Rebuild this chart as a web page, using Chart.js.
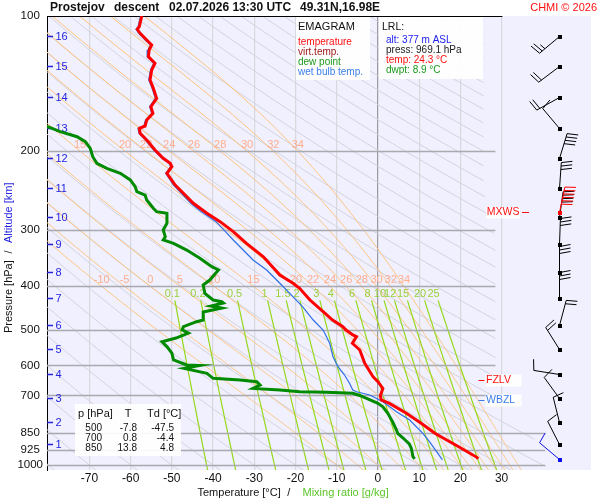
<!DOCTYPE html>
<html>
<head>
<meta charset="utf-8">
<script src="https://cdn.jsdelivr.net/npm/chart.js@4/dist/chart.umd.min.js"></script>
<style>
  html, body { margin: 0; padding: 0; background: #fff; }
  #c { display: block; }
</style>
</head>
<body>
<canvas id="c" width="600" height="500"></canvas>
<script>
// sounding values: [pressure hPa, value °C]
const temperature = [
  [100, -57.3], [105.6, -57.9], [107.1, -58.4], [109.3, -57.7], [113.1, -56.1], [116, -54.9],
  [119, -55.5], [123.2, -55.7], [127.4, -54.1], [131.9, -54.9], [138.8, -55.3], [144.9, -54.5],
  [152.6, -53.7], [159.2, -55.1], [164.7, -54.6], [170.4, -56.1], [175.8, -56.5], [177.9, -57.9],
  [182.5, -57.7], [188.9, -56.1], [198.8, -54.1], [207.5, -52.1], [212.9, -50.4], [216.6, -50.0],
  [220.3, -50.6], [224.1, -51.2], [237.9, -49.2], [248.2, -47.2], [261.3, -44.8], [275, -41.5],
  [287.1, -38.3], [302.2, -35.1], [320.9, -31.9], [343.7, -27.8], [377.4, -23.8], [393.8, -20.6],
  [404.1, -19.0], [429.1, -16.5], [455.6, -13.3], [475.5, -11.0], [492, -8.5], [500, -7.8],
  [513.3, -6.1], [517.8, -5.2], [535.8, -6.2], [554.5, -4.4], [593.5, -3.2], [635.8, -1.2],
  [652.4, 0.0], [675.1, 1.2], [700, 0.6], [716.6, 0.8], [728.9, 2.8], [767.1, 6.9],
  [807.5, 10.5], [850, 13.8], [910.4, 19.6], [961.3, 24.0], [969.1, 24.3]
];
const dewPoint = [
  [175.8, -80.5], [181, -77.1], [185.7, -73.0], [190.5, -71.0], [197.1, -69.8], [205.8, -69.2],
  [212.9, -68.2], [218.4, -65.8], [224.1, -62.5], [231.8, -60.1], [240, -58.9], [246.2, -58.5],
  [250.5, -56.5], [257, -56.1], [268.1, -54.5], [272.8, -53.7], [275, -51.2], [289.5, -51.2],
  [299.6, -52.1], [310.1, -51.6], [315.4, -52.1], [320.9, -49.6], [332.1, -46.4], [346.5, -43.2],
  [361.7, -40.3], [367.9, -38.7], [387.3, -40.8], [397.3, -42.4], [414.6, -42.0], [429.1, -40.0],
  [432.8, -37.9], [435.7, -37.5], [442.4, -40.5], [447, -37.9], [456.3, -42.4], [475.5, -42.4],
  [479.6, -44.0], [492, -47.2], [500, -47.5], [508.3, -46.0], [521.5, -49.0], [531.5, -52.4],
  [544.9, -51.2], [563.6, -50.0], [583.4, -49.6], [598.8, -46.4], [600.5, -43.2], [609.3, -47.0],
  [625, -41.5], [641.2, -40.0], [646.9, -33.5], [652.5, -29.4], [663.8, -28.6], [675.1, -30.3],
  [680.9, -23.8], [686.8, -19.0], [689, -12.5], [692.4, -6.1], [700, -4.4], [728.9, 0.0],
  [741.7, 1.2], [767.1, 2.4], [802.4, 3.6], [835.8, 4.5], [850, 4.8], [870.9, 6.1],
  [897.8, 7.6], [918, 8.1], [958.3, 8.5], [969.1, 8.9]
];
const wetBulb = [
  [100, -57.6], [105.6, -58.2], [107.1, -58.7], [109.3, -58.0], [113.1, -56.4], [116, -55.2],
  [119, -55.8], [123.2, -56.0], [127.4, -54.4], [131.9, -55.2], [138.8, -55.6], [144.9, -54.8],
  [152.6, -54.0], [159.2, -55.4], [164.7, -54.9], [170.4, -56.4], [175.8, -56.8], [177.9, -58.2],
  [182.5, -58.0], [188.9, -56.4], [198.8, -54.4], [207.5, -52.4], [212.9, -50.7], [216.6, -50.3],
  [220.3, -50.9], [224.1, -51.5], [237.9, -49.6], [248.2, -47.7], [261.3, -45.4], [270.4, -43.4],
  [287.1, -39.3], [302.2, -37.0], [315.4, -35.1], [349.4, -30.3], [367.9, -27.0], [393.8, -23.8],
  [414.6, -21.4], [444.9, -18.2], [475.5, -15.7], [500.4, -13.3], [535.8, -11.7], [573.8, -10.9],
  [603.9, -9.7], [630.4, -8.1], [657.7, -6.9], [680.9, -6.1], [686.8, -5.2], [698.5, -2.0],
  [722.9, 1.2], [760.9, 4.5], [794.2, 7.7], [850.2, 10.9], [887.4, 12.5], [966.2, 15.4], [969.1, 15.5]
];

// axes
const pressureLevels = [100, 200, 300, 400, 500, 600, 700, 850, 925, 1000];
const longPressureLines = [850, 925, 1000];
const tempTicks = [-70, -60, -50, -40, -30, -20, -10, 0, 10, 20, 30];
const altKm = [1, 2, 3, 4, 5, 6, 7, 8, 9, 10, 11, 12, 13, 14, 15, 16];
const altP = [898, 802, 709, 627, 551, 488, 425, 372, 322, 280, 242, 207, 178, 151.5, 129, 111];

// background isopleths
const dryThetaC = [-80, -70, -60, -50, -40, -30, -20, -10, 0, 10, 20, 30, 40, 50, 60, 70, 80, 90, 100,
  110, 120, 130, 140, 150, 160, 170, 180, 190, 200, 210, 220, 230, 240, 250, 260, 270, 280, 290, 300,
  310, 320, 330];
const moistThetaW = [-10, -5, 0, 5, 10, 15, 20, 22, 24, 26, 28, 30, 32, 34];
const moistLabelLevels = [200, 400];
const mixRatios = [0.1, 0.2, 0.5, 1, 1.5, 2, 3, 4, 6, 8, 10, 12, 15, 20, 25];
const mixLabels = ['0.1', '0.2', '0.5', '1', '1.5', '2', '3', '4', '6', '8', '10', '12', '15', '20', '25'];

// summary table + LRL box
const tableRows = [['500', '-7.8', '-47.5'], ['700', '0.8', '-4.4'], ['850', '13.8', '4.8']];
const lrlLines = [['alt: 377 m ASL', '#2020f0'], ['press: 969.1 hPa', '#202020'], ['temp: 24.3 °C', '#ff1010'], ['dwpt: 8.9 °C', '#1a9a1a']];
const legendLines = [['temperature', '#ff1010'], ['virt.temp.', '#a01818'], ['dew point', '#1a9a1a'], ['wet bulb temp.', '#3a7ee8']];

// special levels
const levelMarks = [
  { name: 'FZLV', p: 646, color: '#ff1010', side: 'left' },
  { name: 'WBZL', p: 716, color: '#3a7ee8', side: 'left' },
  { name: 'MXWS', p: 273, color: '#ff1010', side: 'right' }
];

// winds: staff direction (deg, as drawn) and speed (kt) at each km
const windP = [969.1, 898, 802, 709, 627, 551, 488, 425, 372, 322, 280, 242, 207, 178, 151.5, 129, 111];
const windDir = [310, 333, 346, 324, 279, 328, 15, 0, 0, 2, 8, 4, 17, 320, 241, 233, 230];
const windKt = [10, 10, 10, 10, 10, 20, 20, 30, 30, 30, 40, 30, 40, 10, 20, 20, 25];
const maxWind = { p: 272.8, dir: 12, kt: 60 };
const windColumnT = 44;

const FONT = "'Liberation Sans', Arial, sans-serif";
Chart.defaults.font.family = FONT;

function toXY(arr) {
  return arr.map(d => ({ x: d[1], y: d[0] }));
}

function satVap(tk) {
  const c = tk - 273.15;
  return 6.112 * Math.exp(17.67 * c / (c + 243.5));
}

// pseudoadiabatic lapse dT/dp
function moistSlope(p, tk) {
  const es = satVap(tk);
  const rs = 0.622 * es / (p - es);
  const Rd = 287.04, Cp = 1005.7, Lv = 2.501e6;
  return (Rd * tk + Lv * rs) / (p * (Cp + Lv * Lv * rs * 0.622 / (Rd * tk * tk)));
}

function moistAdiabat(thetaW) {
  const up = [], down = [], marks = {};
  [[-2, 100, up], [2, 1030, down]].forEach(([h, end, out]) => {
    let T = thetaW + 273.15, p = 1000;
    out.push([p, T - 273.15]);
    while ((h < 0 && p > end) || (h > 0 && p < end)) {
      const k1 = moistSlope(p, T);
      const k2 = moistSlope(p + h / 2, T + h / 2 * k1);
      const k3 = moistSlope(p + h / 2, T + h / 2 * k2);
      const k4 = moistSlope(p + h, T + h * k3);
      T += h / 6 * (k1 + 2 * k2 + 2 * k3 + k4);
      p += h;
      out.push([p, T - 273.15]);
      if (moistLabelLevels.includes(p)) marks[p] = T - 273.15;
    }
  });
  return { pts: down.reverse().concat(up.slice(1)), marks };
}

function mixingT(r, p) {
  const e = p * r / (622 + r);
  const L = Math.log(e / 6.112);
  return 243.5 * L / (17.67 - L);
}

function txt(ctx, s, x, y, color, size, align, weight) {
  ctx.font = (weight || '') + ' ' + size + 'px ' + FONT;
  ctx.fillStyle = color;
  ctx.textAlign = align || 'left';
  ctx.textBaseline = 'middle';
  ctx.fillText(s, x, y);
}

function drawBarb(ctx, x, y, dir, kt, color) {
  const a = dir * Math.PI / 180;
  const ux = Math.sin(a), uy = -Math.cos(a);
  const vx = Math.cos(a), vy = Math.sin(a);
  const tx = x + ux * 26, ty = y + uy * 26;
  ctx.strokeStyle = color;
  ctx.fillStyle = color;
  ctx.lineWidth = 1;
  ctx.beginPath();
  ctx.moveTo(x, y);
  ctx.lineTo(tx, ty);
  let n = Math.round(kt / 5), pos = 0;
  while (n >= 2) {
    const bx = tx - ux * pos, by = ty - uy * pos;
    ctx.moveTo(bx, by);
    ctx.lineTo(bx + vx * 11 + ux * 2, by + vy * 11 + uy * 2);
    n -= 2; pos += 3.5;
  }
  if (n === 1) {
    const bx = tx - ux * pos, by = ty - uy * pos;
    ctx.moveTo(bx, by);
    ctx.lineTo(bx + vx * 6 + ux, by + vy * 6 + uy);
  }
  ctx.stroke();
  ctx.fillRect(x - 1.5, y - 1.5, 4, 4);
}

const emagram = {
  id: 'emagram',
  beforeDraw(chart) {
    const { ctx, chartArea: a } = chart;
    ctx.save();
    ctx.fillStyle = '#f0f0fe';
    ctx.fillRect(a.left, a.top, a.right - a.left, a.bottom - a.top);
    ctx.restore();
  },
  beforeDatasetsDraw(chart) {
    const { ctx } = chart;
    const xs = chart.scales.x, ys = chart.scales.y;
    const px = t => xs.getPixelForValue(t), py = p => ys.getPixelForValue(p);
    const poly = pts => {
      ctx.beginPath();
      pts.forEach((d, i) => i ? ctx.lineTo(px(d[1]), py(d[0])) : ctx.moveTo(px(d[1]), py(d[0])));
      ctx.stroke();
    };

    ctx.save();
    // region the isopleths are drawn in
    const clip = [[100, -80.3], [100, 25.6], [244, 25.6], [315, 28.5], [716, 28.5], [926, 40.6], [1026, 40.6], [1026, -80.3]];
    ctx.beginPath();
    clip.forEach((d, i) => i ? ctx.lineTo(px(d[1]), py(d[0])) : ctx.moveTo(px(d[1]), py(d[0])));
    ctx.closePath();
    ctx.clip();

    ctx.lineWidth = 1;
    ctx.strokeStyle = '#d3d3dc';
    dryThetaC.forEach(th => {
      const pts = [];
      for (let p = 100; p <= 1030; p *= 1.02) pts.push([p, (th + 273.15) * Math.pow(p / 1000, 0.2857) - 273.15]);
      pts.push([1030, (th + 273.15) * Math.pow(1.03, 0.2857) - 273.15]);
      poly(pts);
    });

    ctx.strokeStyle = '#ffc27a';
    const moistMarks = moistThetaW.map(tw => {
      const m = moistAdiabat(tw);
      poly(m.pts);
      return m.marks;
    });

    ctx.strokeStyle = '#96d81a';
    ctx.lineWidth = 1.2;
    mixRatios.forEach(r => {
      const pts = [];
      for (let p = 430; p <= 1030; p += 5) pts.push([p, mixingT(r, p)]);
      poly(pts);
    });
    ctx.restore();

    ctx.save();
    // pressure lines
    ctx.strokeStyle = '#a9a9b0';
    ctx.lineWidth = 1.5;
    pressureLevels.slice(1).forEach(p => {
      const y = Math.round(py(p)) + 0.5;
      ctx.beginPath();
      ctx.moveTo(xs.left, y);
      ctx.lineTo(px(longPressureLines.includes(p) ? 40.6 : 28.5), y);
      ctx.stroke();
    });
    ctx.strokeStyle = '#000';
    ctx.lineWidth = 1;
    ctx.beginPath();
    ctx.moveTo(xs.left, Math.round(py(100)) + 0.5);
    ctx.lineTo(px(30.2), Math.round(py(100)) + 0.5);
    ctx.stroke();

    // altitude ticks
    ctx.strokeStyle = '#2424e0';
    ctx.lineWidth = 1.5;
    altKm.forEach((km, i) => {
      const y = Math.round(py(altP[i])) + 0.5;
      ctx.beginPath();
      ctx.moveTo(xs.left, y);
      ctx.lineTo(xs.left + 6, y);
      ctx.stroke();
      txt(ctx, String(km), xs.left + 8.5, y, '#2424e0', 11);
    });

    // isopleth labels
    moistThetaW.forEach((tw, i) => {
      moistLabelLevels.forEach(lv => {
        const t = moistMarks[i][lv];
        if (t === undefined || t < -78) return;
        txt(ctx, String(tw), px(t), py(lv) - 6.5, '#ffad8c', 11, 'center');
      });
    });
    mixRatios.forEach((r, i) => {
      txt(ctx, mixLabels[i], px(mixingT(r, 400)), py(400) + 8, '#9ad03a', 11, 'center');
    });
    ctx.restore();
  },
  afterDatasetsDraw(chart) {
    const { ctx } = chart;
    const xs = chart.scales.x, ys = chart.scales.y;
    const px = t => xs.getPixelForValue(t), py = p => ys.getPixelForValue(p);
    ctx.save();

    // legend box
    ctx.fillStyle = 'rgba(255,255,255,0.92)';
    ctx.fillRect(296, 17, 74, 63);
    txt(ctx, 'EMAGRAM', 298, 26.5, '#111', 11);
    legendLines.forEach((l, i) => txt(ctx, l[0], 298, 42 + i * 10, l[1], 10));

    // LRL box
    ctx.fillStyle = 'rgba(255,255,255,0.92)';
    ctx.fillRect(379, 17, 104, 62);
    txt(ctx, 'LRL:', 382, 27.5, '#111', 10.5);
    lrlLines.forEach((l, i) => txt(ctx, l[0], 386, 40 + i * 10, l[1], 10));

    // table
    ctx.fillStyle = 'rgba(255,255,255,0.92)';
    ctx.fillRect(75, 404, 106, 52);
    txt(ctx, 'p [hPa]', 78, 414, '#111', 11);
    txt(ctx, 'T', 128, 414, '#111', 11, 'center');
    txt(ctx, 'Td [°C]', 147, 414, '#111', 11);
    tableRows.forEach((row, i) => {
      const y = 428 + i * 10;
      txt(ctx, row[0], 102, y, '#111', 10, 'right');
      txt(ctx, row[1], 137, y, '#111', 10, 'right');
      txt(ctx, row[2], 174, y, '#111', 10, 'right');
    });

    // special levels
    levelMarks.forEach(m => {
      const y = Math.round(py(m.p)) + 0.5;
      ctx.font = '10.5px ' + FONT;
      const w = ctx.measureText(m.name).width;
      ctx.strokeStyle = m.color;
      ctx.lineWidth = 1;
      if (m.side === 'left') {
        const x0 = px(24.4);
        ctx.fillStyle = 'rgba(255,255,255,0.92)';
        ctx.fillRect(x0 + 7, y - 6, 36, 12);
        ctx.beginPath(); ctx.moveTo(x0, y); ctx.lineTo(x0 + 6, y); ctx.stroke();
        txt(ctx, m.name, x0 + 7.5, y, m.color, 10.5);
      } else {
        const x0 = px(26.3);
        ctx.fillStyle = 'rgba(255,255,255,0.92)';
        ctx.fillRect(x0, y - 5, w + 1, 11);
        txt(ctx, m.name, x0 + 0.5, y, m.color, 10.5);
        ctx.beginPath(); ctx.moveTo(x0 + w + 3, y); ctx.lineTo(x0 + w + 10, y); ctx.stroke();
      }
    });

    // wind barbs
    const wx = Math.round(px(windColumnT)) + 0.5;
    windP.forEach((p, i) => {
      drawBarb(ctx, wx, Math.round(py(p)) + 0.5, windDir[i], windKt[i], i === 0 ? '#1010e8' : '#000');
    });
    drawBarb(ctx, wx, Math.round(py(maxWind.p)) + 0.5, maxWind.dir, maxWind.kt, '#ff0000');
    ctx.restore();
  },
  afterDraw(chart) {
    const { ctx } = chart;
    ctx.save();
    txt(ctx, 'Prostejov', 50, 7.5, '#111', 12, 'left', 'bold');
    txt(ctx, 'descent', 114, 7.5, '#111', 12, 'left', 'bold');
    txt(ctx, '02.07.2026 13:30 UTC', 169, 7.5, '#111', 12, 'left', 'bold');
    txt(ctx, '49.31N,16.98E', 300, 7.5, '#111', 12, 'left', 'bold');
    txt(ctx, 'CHMI © 2026', 597, 7.5, '#ff1010', 11, 'right');

    txt(ctx, 'Temperature [°C]', 197.5, 493, '#111', 11);
    txt(ctx, '/', 288.7, 493, '#111', 11, 'center');
    txt(ctx, 'Mixing ratio [g/kg]', 302.5, 493, '#5cc62a', 11);

    ctx.translate(9, 333);
    ctx.rotate(-Math.PI / 2);
    txt(ctx, 'Pressure [hPa]', 0, 0, '#111', 11);
    txt(ctx, '/', 81, 0, '#111', 11, 'center');
    txt(ctx, 'Altitude [km]', 90, 0, '#2424e0', 11);
    ctx.restore();
  }
};

new Chart(document.getElementById('c'), {
  type: 'scatter',
  data: {
    datasets: [
      { label: 'temperature', data: toXY(temperature), borderColor: '#ff0000', borderWidth: 3,
        showLine: true, pointRadius: 0, order: 1 },
      { label: 'dew point', data: toXY(dewPoint), borderColor: '#008a00', borderWidth: 3,
        showLine: true, pointRadius: 0, order: 2 },
      { label: 'wet bulb temp.', data: toXY(wetBulb), borderColor: '#2f6fe8', borderWidth: 1.2,
        showLine: true, pointRadius: 0, order: 3 }
    ]
  },
  options: {
    responsive: false,
    animation: false,
    events: [],
    layout: { padding: { top: 16, right: 9, left: 0, bottom: 0 } },
    plugins: { legend: { display: false }, tooltip: { enabled: false } },
    scales: {
      x: {
        type: 'linear',
        min: -80.3,
        max: 51.7,
        afterBuildTicks: s => { s.ticks = tempTicks.map(v => ({ value: v })); },
        afterFit: s => { s.height = 30; },
        ticks: { color: '#111', font: { size: 12 }, padding: 1, callback: v => String(v) },
        grid: {
          drawTicks: false,
          lineWidth: 1.2,
          color: c => (c.tick && c.tick.value === 0) ? '#9a9aa0' : '#d8d8de'
        },
        border: { display: false }
      },
      y: {
        type: 'logarithmic',
        reverse: true,
        min: 100,
        max: 1026,
        afterBuildTicks: s => { s.ticks = pressureLevels.map(v => ({ value: v })); },
        afterFit: s => { s.width = 47; },
        ticks: { color: '#111', font: { size: 11.5 }, padding: 4, crossAlign: 'center', callback: v => String(v) },
        grid: { display: false, drawTicks: false },
        border: { display: true, color: '#000', width: 1 }
      }
    }
  },
  plugins: [emagram]
});
</script>
</body>
</html>
